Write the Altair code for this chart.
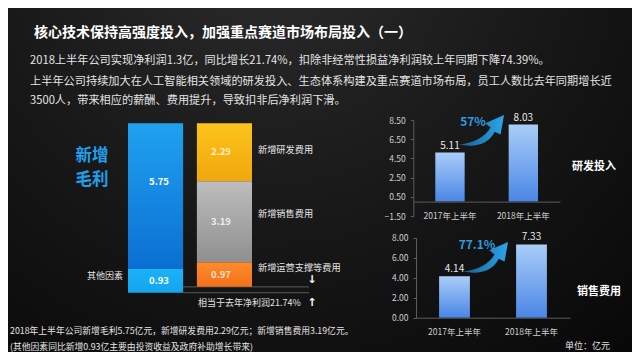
import altair as alt
import pandas as pd

# ---------------- data ----------------
title_text = "核心技术保持高强度投入，加强重点赛道市场布局投入（一）"
para_lines = [
    "2018上半年公司实现净利润1.3亿，同比增长21.74%，扣除非经常性损益净利润较上年同期下降74.39%。",
    "上半年公司持续加大在人工智能相关领域的研发投入、生态体系构建及重点赛道市场布局，员工人数比去年同期增长近",
    "3500人，带来相应的薪酬、费用提升，导致扣非后净利润下滑。",
]
footer_lines = [
    "2018年上半年公司新增毛利5.75亿元，新增研发费用2.29亿元；新增销售费用3.19亿元。",
    "(其他因素同比新增0.93亿主要由投资收益及政府补助增长带来)",
]
unit_text = "单位：亿元"

bar_groups = ["增加", "减少"]
gain_names = ["其他因素", "新增毛利"]
gain_values = [0.93, 5.75]
cost_names = ["新增研发费用", "新增销售费用", "新增运营支撑等费用"]
cost_values = [2.29, 3.19, 0.97]
big_label = ["新增", "毛利"]
net_label = "相当于去年净利润21.74%"

periods = ["2017年上半年", "2018年上半年"]
rd_values = [5.11, 8.03]
sales_values = [4.14, 7.33]
rd_growth = "57%"
sales_growth = "77.1%"
rd_title = "研发投入"
sales_title = "销售费用"
rd_ticks = [-1.5, 0.5, 2.5, 4.5, 6.5, 8.5]
sales_ticks = [0, 2, 4, 6, 8]

# ---------------- build tables ----------------
rows = []
acc = 0.0
for n, v in zip(gain_names, gain_values):
    rows.append(dict(group=bar_groups[0], name=n, start=acc, end=acc + v, label=f"{v:.2f}"))
    acc += v
top_total = acc
for n, v in zip(cost_names, cost_values):
    rows.append(dict(group=bar_groups[1], name=n, start=acc, end=acc - v, label=f"{v:.2f}"))
    acc -= v
net_value = acc
wf = pd.DataFrame(rows)
# label anchor: middle of segment, a little higher for the tall gross-profit block
wf["pos"] = [s + (e - s) * (0.6 if abs(e - s) > 5 else 0.5) for s, e in zip(wf["start"], wf["end"])]
rules_df = pd.DataFrame({"v": [0.0, net_value]})
rd_df = pd.DataFrame({"period": periods, "value": rd_values})
sales_df = pd.DataFrame({"period": periods, "value": sales_values})
one = pd.DataFrame({"a": [0]})

# ---------------- layout / style ----------------
W, H = 624, 344
OX, OY = 8, 8
CJK = "Noto Sans CJK SC"


def grad(c_top, c_bot, horizontal=False):
    if horizontal:
        return alt.LinearGradient(gradient="linear", x1=0, x2=1, y1=0, y2=0,
                                  stops=[alt.GradientStop(color=c_top, offset=0),
                                         alt.GradientStop(color=c_bot, offset=1)])
    return alt.LinearGradient(gradient="linear", x1=0, x2=0, y1=0, y2=1,
                              stops=[alt.GradientStop(color=c_top, offset=0),
                                     alt.GradientStop(color=c_bot, offset=1)])


def label(text, px, py, size, color="#e4e4e4", weight="normal", align="left", font=CJK):
    return alt.Chart(one).mark_text(
        text=text, fontSize=size, color=color, fontWeight=weight, align=align,
        baseline="middle", font=font
    ).encode(x=alt.value(px - OX), y=alt.value(py - OY))


layers = []

# background
bg = alt.Chart(one).mark_rect(
    fill=alt.RadialGradient(
        gradient="radial", x1=0.42, y1=0.12, x2=0.42, y2=0.12, r1=0, r2=0.9,
        stops=[alt.GradientStop(color="#2c2c2c", offset=0),
               alt.GradientStop(color="#181818", offset=0.5),
               alt.GradientStop(color="#070707", offset=1)])
).encode(x=alt.value(0), x2=alt.value(W), y=alt.value(0), y2=alt.value(H))
layers.append(bg)

# texts
layers.append(label(title_text, 34, 33, 14, color="#ffffff", weight="bold"))
for txt, py in zip(para_lines, [61, 82, 101]):
    layers.append(label(txt, 30, py, 11.2))
for txt, py in zip(footer_lines, [331, 346.5]):
    layers.append(label(txt, 10, py, 8.8))
layers.append(label(unit_text, 565, 346, 9))

# ---------------- waterfall (left) ----------------
lx = alt.Scale(domain=bar_groups, range=[128 - OX, 252 - OX], paddingInner=0.2, paddingOuter=0)
ly = alt.Scale(domain=[0, top_total], range=[292.7 - OY, 123.3 - OY], nice=False, zero=False)

layers.append(
    alt.Chart(rules_df).mark_rule(color="#5c5c5c", strokeWidth=1).encode(
        y=alt.Y("v:Q", scale=ly, axis=None),
        x=alt.value(183 - OX), x2=alt.value(309 - OX))
)

seg_grad = {
    "其他因素": ("#1bb2f7", "#14a4ee"),
    "新增毛利": ("#1fa2f0", "#0b6fd2"),
    "新增研发费用": ("#fbc41c", "#f2a60c"),
    "新增销售费用": ("#bdbdbd", "#8f8f8f"),
    "新增运营支撑等费用": ("#ff8b2c", "#f2701a"),
}
for name in gain_names + cost_names:
    c1, c2 = seg_grad[name]
    layers.append(
        alt.Chart(wf).transform_filter(alt.datum.name == name).mark_bar(
            fill=grad(c1, c2), strokeWidth=0
        ).encode(
            x=alt.X("group:N", scale=lx, axis=None),
            y=alt.Y("start:Q", scale=ly, axis=None),
            y2="end:Q")
    )

all_names = gain_names + cost_names
layers.append(
    alt.Chart(wf).mark_text(fontSize=9.5, fontWeight="bold", baseline="middle", font=CJK).encode(
        x=alt.X("group:N", scale=lx, axis=None),
        y=alt.Y("pos:Q", scale=ly, axis=None),
        text="label:N",
        color=alt.Color("name:N", legend=None,
                        scale=alt.Scale(domain=all_names,
                                        range=["#ffffff", "#ffffff", "#fff0c4", "#eeeeee", "#ffe2c6"])))
)

layers.append(label(big_label[0], 92, 155.5, 16.5, color="#1fa0ec", weight="bold", align="center"))
layers.append(label(big_label[1], 92, 179.5, 16.5, color="#1fa0ec", weight="bold", align="center"))
layers.append(label(gain_names[0], 123, 276, 9, align="right"))
for name, py in zip(cost_names, [150, 214, 268]):
    layers.append(label(name, 258, py, 9.2))
layers.append(label(net_label, 198, 303, 9))
layers.append(label("↓", 312, 280, 11, color="#ffffff", weight="bold", font="DejaVu Sans", align="center"))
layers.append(label("↑", 312, 303, 11, color="#ffffff", weight="bold", font="DejaVu Sans", align="center"))

# ---------------- right bar charts ----------------
ARROW = ("M -1 0.5 Q 0.15 0.72 0.55 -0.05 L 0.8 0.06 L 0.95 -0.78 L 0.14 -0.42 "
         "L 0.37 -0.24 Q 0.0 0.38 -1 0.5 Z")
bar_fill = grad("#aacdf8", "#4a86e6")
axis_common = dict(title=None, grid=False, domainColor="#5c5c5c", tickColor="#5c5c5c",
                   labelColor="#cfcfcf", labelFontSize=8.5, labelFont=CJK, zindex=1)


def bar_panel(df, x0, x1, dom, y_lo, y_hi, ticks, growth, arrow_xy, growth_xy, name, name_xy):
    xs = alt.Scale(domain=periods, range=[x0 - OX, x1 - OX], paddingInner=0.6, paddingOuter=0.3)
    ys = alt.Scale(domain=dom, range=[y_lo - OY, y_hi - OY], nice=False, zero=False)
    zero_px = (y_lo - OY) + (0 - dom[0]) / (dom[1] - dom[0]) * ((y_hi - OY) - (y_lo - OY))
    out = []
    out.append(
        alt.Chart(df).mark_bar(fill=bar_fill, strokeWidth=0).encode(
            x=alt.X("period:N", scale=xs,
                    axis=alt.Axis(orient="bottom", offset=zero_px - H, labelAngle=0, ticks=False,
                                  labelPadding=10, **axis_common)),
            y=alt.Y("value:Q", scale=ys,
                    axis=alt.Axis(orient="left", offset=-(x0 - OX), values=ticks, format=".2f",
                                  tickSize=3, labelPadding=5, **axis_common)),
            y2=alt.datum(0))
    )
    out.append(
        alt.Chart(df).mark_text(dy=-7, fontSize=10, color="#e8e8e8", baseline="middle", font=CJK).encode(
            x=alt.X("period:N", scale=xs, axis=None),
            y=alt.Y("value:Q", scale=ys, axis=None),
            text=alt.Text("value:Q", format=".2f"))
    )
    out.append(
        alt.Chart(one).mark_point(shape=ARROW, size=2150, filled=True, opacity=1, strokeWidth=0,
                                  fill=grad("#175f8e", "#2ba6ec", horizontal=True)).encode(
            x=alt.value(arrow_xy[0] - OX), y=alt.value(arrow_xy[1] - OY))
    )
    out.append(label(growth, growth_xy[0], growth_xy[1], 12, color="#2a9ee2", weight="bold", align="center"))
    out.append(label(name, name_xy[0], name_xy[1], 11, color="#ffffff", weight="bold"))
    return out


layers += bar_panel(rd_df, 413.3, 560, [-1.5, 8.5], 216, 120, rd_ticks, rd_growth,
                    (482, 133), (473, 122), rd_title, (572, 167))
layers += bar_panel(sales_df, 416, 570, [0, 8], 317.7, 237.7, sales_ticks, sales_growth,
                    (486, 260), (477, 245), sales_title, (577, 292))

chart = alt.layer(*layers).resolve_scale(
    x="independent", y="independent", color="independent"
).resolve_axis(
    x="independent", y="independent"
).properties(
    width=W, height=H, padding=0, background="#0c0c0c",
    autosize=alt.AutoSizeParams(type="none")
).configure_view(stroke=None).configure(font=CJK)

chart.save("out.html", embed_options={"renderer": "svg", "actions": False})
